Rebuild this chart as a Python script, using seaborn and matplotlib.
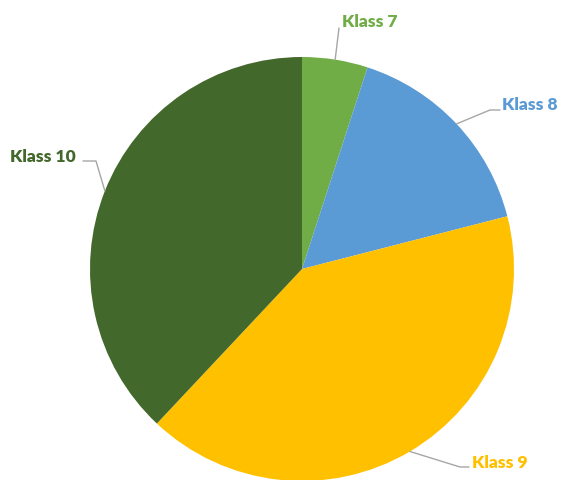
import numpy as np
import matplotlib
matplotlib.use("Agg")
import matplotlib.pyplot as plt
import seaborn as sns

categories = ["Klass 7", "Klass 8", "Klass 9", "Klass 10"]
values = [5, 16, 41, 38]
colors = ["#70AD47", "#5B9BD5", "#FFC000", "#43682B"]

sns.set_theme(style="white")
plt.rcParams['font.family'] = ['Lato', 'DejaVu Sans']

W, H = 563, 480
fig = plt.figure(figsize=(W / 100, H / 100), dpi=100)
ax = fig.add_axes([0, 0, 1, 1])

cx, cy, r = 302, H - 269, 212
wedges, _ = ax.pie(values, colors=colors, startangle=90, counterclock=False,
                   center=(cx, cy), radius=r, frame=True,
                   wedgeprops=dict(linewidth=0))
ax.set_xlim(0, W)
ax.set_ylim(0, H)
ax.set_aspect("equal")
ax.axis("off")

# label text positions (pixel coords: left x, center y) and leader elbows
text_pos = [(342, 22), (502, 105), (472, 463), (10, 157)]
elbows = [[(339, 28)], [(490, 110), (500, 110)], [(460, 467), (469, 467)], [(96, 161), (83, 161)]]

total = sum(values)
cum = 0
for cat, v, col, tp, el in zip(categories, values, colors, text_pos, elbows):
    mid = 90 - (cum + v / 2) / total * 360
    cum += v
    ex = cx + r * np.cos(np.radians(mid))
    ey = cy + r * np.sin(np.radians(mid))
    xs = [ex] + [p[0] for p in el]
    ys = [ey] + [H - p[1] for p in el]
    ax.plot(xs, ys, color="#A6A6A6", lw=1)
    ax.text(tp[0], H - tp[1], cat, color=col, fontsize=12.5, fontweight="heavy",
            ha="left", va="center")

fig.savefig("out.png", dpi=100)
